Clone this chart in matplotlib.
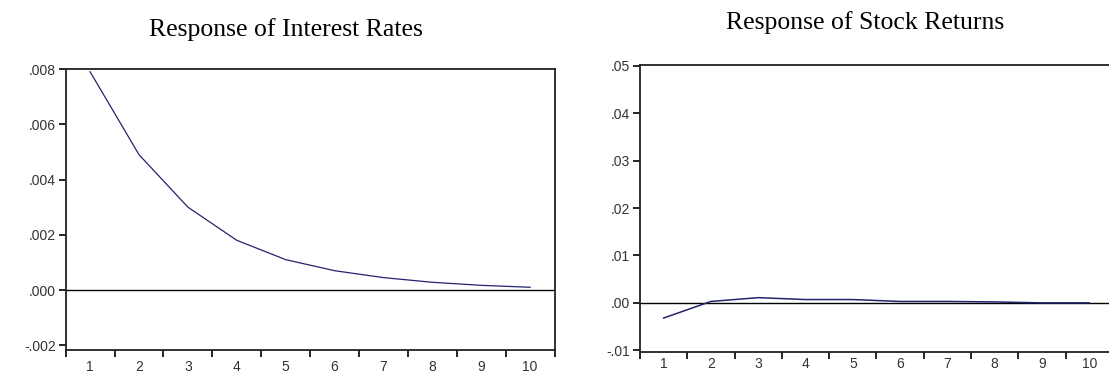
import matplotlib
matplotlib.use("Agg")
from matplotlib import pyplot as plt
from matplotlib.ticker import FixedLocator, FixedFormatter

# impulse response values (periods 1..10)
periods = [1, 2, 3, 4, 5, 6, 7, 8, 9, 10]
interest_resp = [0.0079, 0.0049, 0.0030, 0.0018, 0.0011, 0.0007, 0.00045, 0.00028, 0.00017, 0.00010]
stock_resp = [-0.0032, 0.0003, 0.0011, 0.0007, 0.0007, 0.0003, 0.0003, 0.0002, 0.0000, 0.0000]

interest_ticks = [-0.002, 0.000, 0.002, 0.004, 0.006, 0.008]
interest_labels = ['-.002', '.000', '.002', '.004', '.006', '.008']
stock_ticks = [-0.01, 0.00, 0.01, 0.02, 0.03, 0.04, 0.05]
stock_labels = ['-.01', '.00', '.01', '.02', '.03', '.04', '.05']

line_col = '#23236e'

fig = plt.figure(figsize=(11.09, 3.74), dpi=100)
ax1 = fig.add_axes([0.0592, 0.0642, 0.4409, 0.7513])
ax2 = fig.add_axes([0.5771, 0.0597, 0.4265, 0.7665])


def style(ax, yticks, ylabels, ylim, xpad):
    ax.set_xlim(0.5, 10.5)
    ax.set_ylim(*ylim)
    ax.axhline(0, color='black', lw=1.0, zorder=1)
    ax.yaxis.set_major_locator(FixedLocator(yticks))
    ax.yaxis.set_major_formatter(FixedFormatter(ylabels))
    ax.xaxis.set_major_locator(FixedLocator(periods))
    ax.xaxis.set_major_formatter(FixedFormatter([str(p) for p in periods]))
    ax.xaxis.set_minor_locator(FixedLocator([p + 0.5 for p in range(0, 11)]))
    ax.tick_params(axis='x', which='major', length=0, pad=xpad)
    ax.tick_params(axis='x', which='minor', length=5, width=1.2, direction='out')
    ax.tick_params(axis='y', which='major', length=5, width=1.2, direction='out', pad=2)
    ax.tick_params(labelsize=10, labelcolor='#333333')
    for lab in ax.get_xticklabels() + ax.get_yticklabels():
        lab.set_family('Liberation Sans')
    for sp in ax.spines.values():
        sp.set_linewidth(1.3)
        sp.set_color('#222222')


ax1.plot(periods, interest_resp, color=line_col, lw=0.9, zorder=2)
style(ax1, interest_ticks, interest_labels, (-0.00217, 0.008), 7)

ax2.plot(periods, stock_resp, color=line_col, lw=1.1, zorder=2)
style(ax2, stock_ticks, stock_labels, (-0.0103, 0.0502), 4)

fig.text(286 / 1109, 1 - 30 / 374, 'Response of Interest Rates', ha='center', va='center',
         fontsize=18.5, family='Liberation Serif')
fig.text(865 / 1109, 1 - 23 / 374, 'Response of Stock Returns', ha='center', va='center',
         fontsize=18.5, family='Liberation Serif')

fig.savefig('out.png', dpi=100)
